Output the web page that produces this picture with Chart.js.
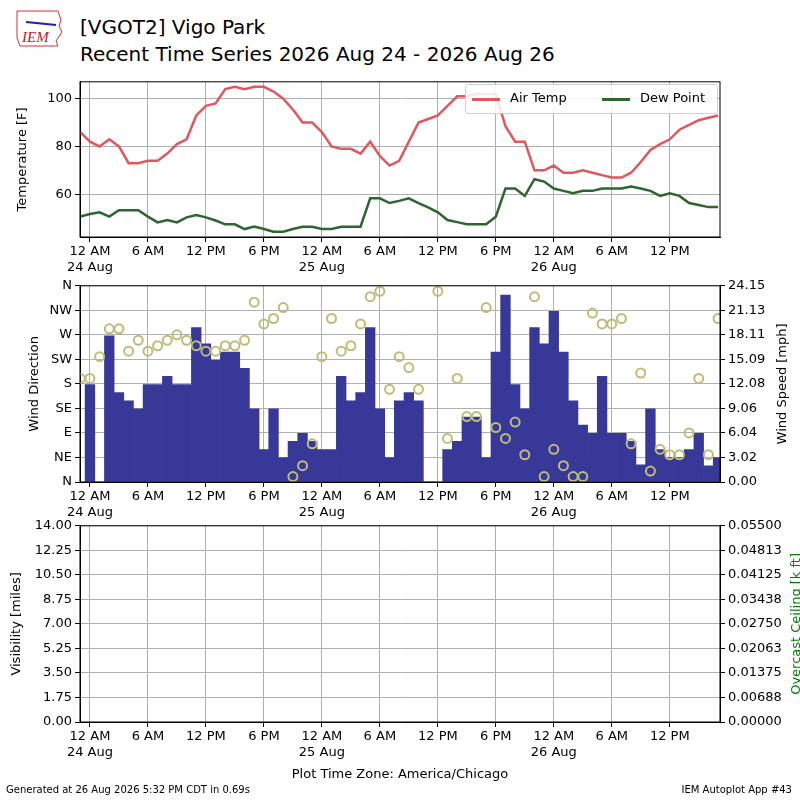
<!DOCTYPE html>
<html>
<head>
<meta charset="utf-8">
<script src="https://cdn.jsdelivr.net/npm/chart.js@4"></script>
<style>
  body { margin: 0; width: 800px; height: 800px; background: #fff; font-family: "DejaVu Sans", sans-serif; position: relative; overflow: hidden; }
  canvas { position: absolute; left: 0; }
  .t { position: absolute; color: #000; white-space: nowrap; }
</style>
</head>
<body>
<div class="t" style="left:14px;top:8px;width:50px;height:40px;">
  <svg width="50" height="40"><path d="M3 3 L44 3 L47 12 L45 18 L48 24 L42 33 L44 38 L6 38 L3 30 Z" fill="none" stroke="#d0303a" stroke-width="1"/>
  <line x1="12" y1="14" x2="42" y2="17" stroke="#2020b0" stroke-width="2"/>
  <text x="8" y="34" font-family="Liberation Serif" font-style="italic" font-size="15" fill="#c02030">IEM</text></svg>
</div>
<div class="t" style="left:80px;top:15px;font-size:20px;">[VGOT2] Vigo Park</div>
<div class="t" style="left:80px;top:42px;font-size:20px;">Recent Time Series 2026 Aug 24 - 2026 Aug 26</div>
<canvas id="c1" width="800" height="206" style="top:71px"></canvas>
<canvas id="c2" width="800" height="247" style="top:275px"></canvas>
<canvas id="c3" width="800" height="247" style="top:515px"></canvas>
<div class="t" style="left:465px;top:84px;width:251px;height:28px;border:1px solid #d0d0d0;border-radius:3px;background:rgba(255,255,255,0.85);font-size:13px;">
  <span style="position:absolute;left:6px;top:13px;width:28px;height:3px;background:#e0585e"></span>
  <span style="position:absolute;left:44px;top:5px;">Air Temp</span>
  <span style="position:absolute;left:136px;top:13px;width:28px;height:3px;background:#2d6630"></span>
  <span style="position:absolute;left:174px;top:5px;">Dew Point</span>
</div>
<div class="t" style="left:0;width:800px;text-align:center;top:766px;font-size:13px;">Plot Time Zone: America/Chicago</div>
<div class="t" style="left:6px;top:784px;font-size:10px;">Generated at 26 Aug 2026 5:32 PM CDT in 0.69s</div>
<div class="t" style="right:8px;top:784px;font-size:10px;">IEM Autoplot App #43</div>
<script>
// hours relative to 24 Aug 00:00 local, one observation per hour from -1 to 65
const airTemp = [86,82,80,83,80,73,73,74,74,77,81,83,93,97,98,104,105,104,105,105,103,100,95.5,90,90,86,80,79,79,77,82,76,72,74,82,
  90,91.5,93,97,101,101,102,102,102,88.5,82,82,70,70,72,69,69,70,69,68,67,67,69,73.5,78.5,81,83,87,89,91,92,93];
const dewPoint = [50.7,51.7,52.4,50.6,53.3,53.3,53.3,50.6,48.2,49.2,48.2,50.3,51.3,50.3,49,47.4,47.4,45.4,46.5,45.4,44.3,44.3,45.4,46.4,46.4,45.4,45.4,46.4,46.4,46.4,58.3,58.3,56.3,
  57.2,58.3,56.3,54.5,52.4,49.2,48.3,47.4,47.4,47.4,50.6,62.4,62.4,59.3,66.3,65.3,62.4,61.4,60.4,61.4,61.4,62.4,62.4,62.4,63.2,62.4,61.4,59.3,60.4,59.3,56.3,55.5,54.6,54.6];
const windSpeed = [0,12,0,18,11,10,9,12,12,13,12,12,19,17,15,16,16,14,9,4,9,3,5,6,5,4,4,13,10,11,19,9,3,10,11,
  10,0,0,4,5,8,8,3,16,23,12,9,19,17,21,16,10,7,6,13,6,6,5,2.1,9,4,3,3,4,6,2,3];
const windDir = [190,190,230,281,281,240,260,240,250,260,270,260,250,240,240,250,250,260,330,290,300,320,10,30,70,230,300,240,250,290,340,350,170,230,210,
  170,null,350,80,190,120,120,320,100,80,110,50,340,10,60,30,10,10,310,290,290,300,70,200,20,60,50,50,90,190,50,300];
const firstHour = -1;
const hours = airTemp.map((_, i) => firstHour + i);
const timeTicks = [0,6,12,18,24,30,36,42,48,54,60];
const dayNames = {0: '24 Aug', 24: '25 Aug', 48: '26 Aug'};
const dirLabels = ['N','NE','E','SE','S','SW','W','NW','N'];
const speedTicks = [0,3.02,6.04,9.06,12.08,15.09,18.11,21.13,24.15];
const visTicks = [0,1.75,3.5,5.25,7,8.75,10.5,12.25,14];
const ceilTicks = [0,0.006875,0.01375,0.020625,0.0275,0.034375,0.04125,0.048125,0.055];

Chart.defaults.font.family = '"DejaVu Sans", sans-serif';
Chart.defaults.font.size = 13;
Chart.defaults.color = '#000';
Chart.defaults.animation = false;

const frame = {
  id: 'frame',
  afterDraw(chart, args, opts) {
    const { ctx, chartArea: a } = chart;
    ctx.save();
    ctx.strokeStyle = '#000';
    ctx.lineWidth = 1;
    ctx.strokeRect(a.left, a.top, a.right - a.left, a.bottom - a.top);
    ctx.font = '13px "DejaVu Sans"';
    ctx.textAlign = 'center';
    ctx.textBaseline = 'middle';
    (opts.titles || []).forEach(t => {
      ctx.save();
      ctx.fillStyle = t.color || '#000';
      ctx.translate(t.x, (a.top + a.bottom) / 2);
      ctx.rotate(-Math.PI / 2);
      ctx.fillText(t.text, 0, 0);
      ctx.restore();
    });
    ctx.restore();
  }
};

function timeAxis() {
  return {
    type: 'linear', min: -1.03, max: 65.2, offset: false,
    afterBuildTicks: s => { s.ticks = timeTicks.map(v => ({ value: v })); },
    afterFit: s => { s.height = 40; },
    ticks: {
      padding: 2, maxRotation: 0, autoSkip: false,
      callback: v => {
        const h = ((v % 24) + 24) % 24;
        const lab = h === 0 ? '12 AM' : h === 12 ? '12 PM' : (h % 12) + (h < 12 ? ' AM' : ' PM');
        return dayNames[v] ? [lab, dayNames[v]] : lab;
      }
    },
    grid: { offset: false, color: '#b0b0b0', tickColor: '#000', tickLength: 5 },
    border: { color: '#000' }
  };
}

function valueAxis(pos, min, max, tickVals, fmt, grid) {
  return {
    type: 'linear', position: pos, min, max,
    afterBuildTicks: s => { s.ticks = tickVals.map(v => ({ value: v })); },
    afterFit: s => { s.width = 80; },
    ticks: { padding: 3, autoSkip: false, callback: fmt },
    grid: { display: true, drawOnChartArea: grid, color: '#b0b0b0', tickColor: '#000', tickLength: 5 },
    border: { color: '#000' }
  };
}

new Chart(document.getElementById('c1'), {
  type: 'line',
  data: {
    labels: hours,
    datasets: [
      { label: 'Air Temp', data: hours.map((h, i) => ({ x: h, y: airTemp[i] })), borderColor: '#e0585e', borderWidth: 2.5, pointRadius: 0 },
      { label: 'Dew Point', data: hours.map((h, i) => ({ x: h, y: dewPoint[i] })), borderColor: '#2d6630', borderWidth: 2.5, pointRadius: 0 }
    ]
  },
  options: {
    responsive: false,
    layout: { padding: { top: 10, right: 80, left: 0, bottom: 0 } },
    plugins: { legend: { display: false }, tooltip: { enabled: false },
      frame: { titles: [{ text: 'Temperature [F]', x: 23 }] } },
    scales: {
      x: timeAxis(),
      y: valueAxis('left', 42.08, 107.08, [60, 80, 100], v => v, true)
    }
  },
  plugins: [frame]
});

new Chart(document.getElementById('c2'), {
  type: 'bar',
  data: {
    datasets: [
      { type: 'line', label: 'dir', data: hours.map((h, i) => ({ x: h, y: windDir[i] })), yAxisID: 'dir', showLine: false,
        pointRadius: 4.5, pointBorderWidth: 2, pointBorderColor: '#bdbd78', pointBackgroundColor: 'rgba(0,0,0,0)', order: 0 },
      { label: 'speed', data: hours.map((h, i) => ({ x: h, y: windSpeed[i] })), yAxisID: 'spd',
        backgroundColor: '#383898', barPercentage: 1, categoryPercentage: 1, order: 1 }
    ]
  },
  options: {
    responsive: false,
    layout: { padding: { top: 0, right: 0, left: 0, bottom: 0 } },
    plugins: { legend: { display: false }, tooltip: { enabled: false },
      frame: { titles: [{ text: 'Wind Direction', x: 35 }, { text: 'Wind Speed [mph]', x: 783 }] } },
    scales: {
      x: timeAxis(),
      dir: valueAxis('left', 0, 360, [0,45,90,135,180,225,270,315,360], v => dirLabels[Math.round(v / 45)], true),
      spd: valueAxis('right', 0, 24.15, speedTicks, v => v.toFixed(2), false)
    }
  },
  plugins: [frame]
});

new Chart(document.getElementById('c3'), {
  type: 'line',
  data: { datasets: [
    { data: [], yAxisID: 'vis' },
    { data: [], yAxisID: 'ceil' }
  ] },
  options: {
    responsive: false,
    layout: { padding: { top: 0, right: 0, left: 0, bottom: 0 } },
    plugins: { legend: { display: false }, tooltip: { enabled: false },
      frame: { titles: [{ text: 'Visibility [miles]', x: 17 }, { text: 'Overcast Ceiling [k ft]', x: 797, color: 'green' }] } },
    scales: {
      x: timeAxis(),
      vis: valueAxis('left', 0, 14, visTicks, v => v.toFixed(2), true),
      ceil: valueAxis('right', 0, 0.055, ceilTicks, v => v.toFixed(5), false)
    }
  },
  plugins: [frame]
});
</script>
</body>
</html>
